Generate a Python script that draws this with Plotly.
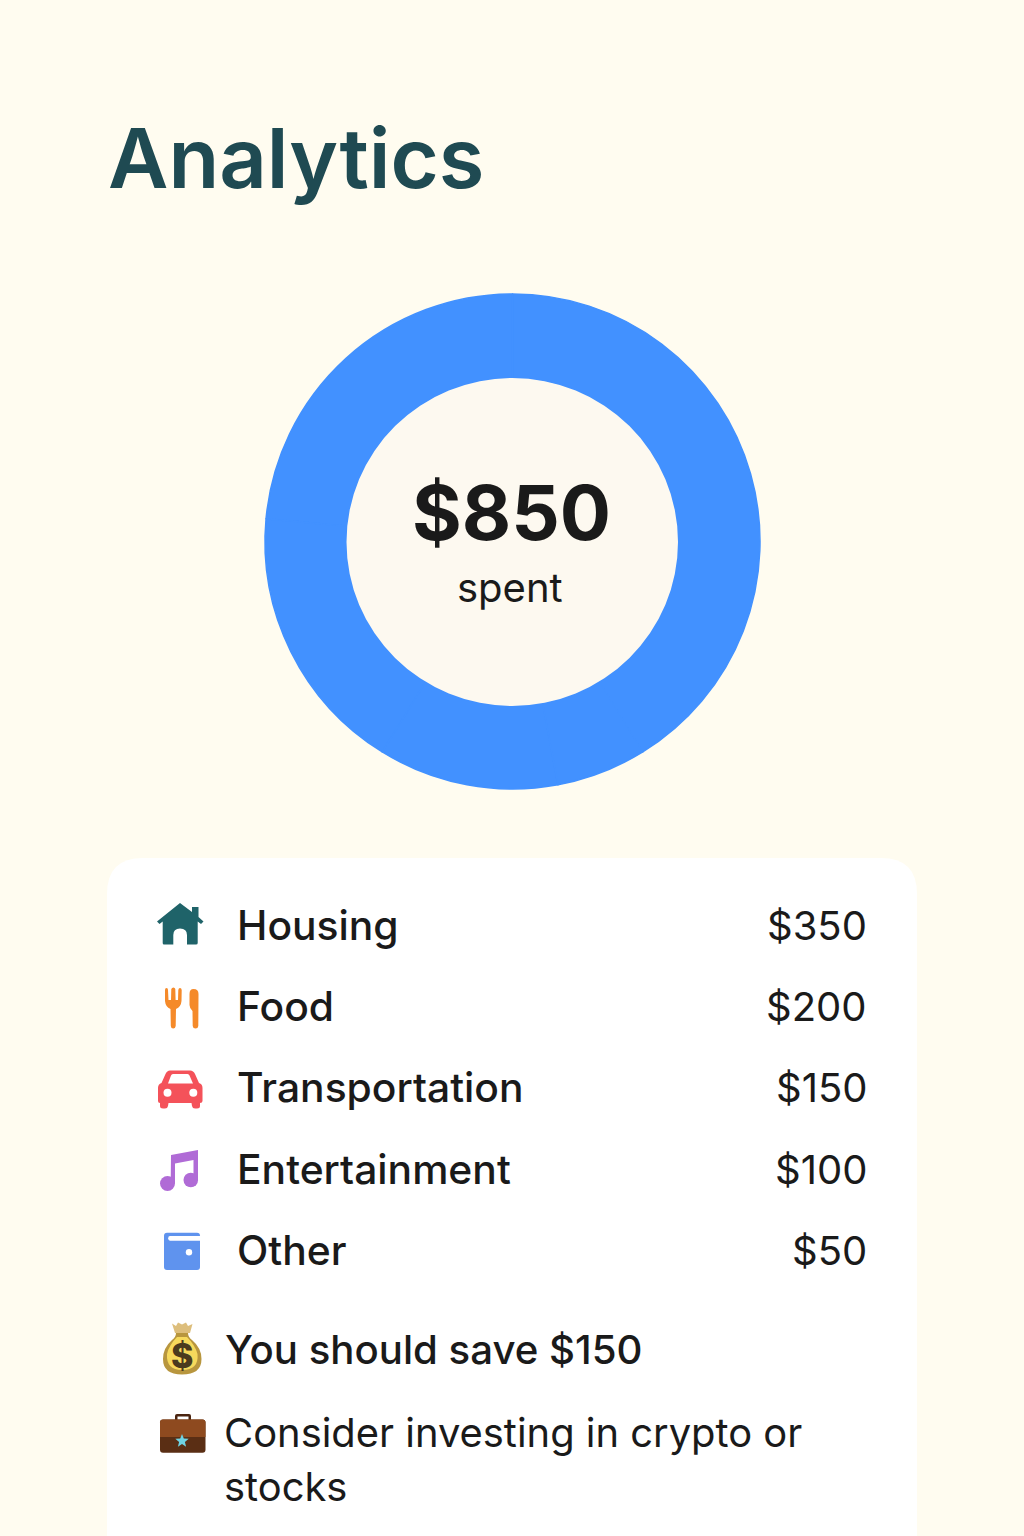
import math
import plotly.graph_objects as go

categories = ["Housing", "Food", "Transportation", "Entertainment", "Other"]
amounts = [350, 200, 150, 100, 50]
amount_labels = ["$350", "$200", "$150", "$100", "$50"]
title_text = "Analytics"
total_text = "$850"
total_caption = "spent"
row_y = [925, 1006, 1087, 1169, 1250]

BG = "#FFFCF0"
BLUE = "#4291FF"
FONT = "Inter"
INK = "#1A1A1A"

fig = go.Figure()
fig.add_trace(go.Pie(
    labels=categories, values=amounts, hole=0.66, sort=False,
    marker=dict(colors=[BLUE] * 5, line=dict(color=BLUE, width=1.5)),
    textinfo="none", showlegend=False, hoverinfo="label+value",
    domain=dict(x=[(512.5 - 247.5) / 1024, (512.5 + 247.5) / 1024],
                y=[1 - (541.5 + 247.5) / 1536, 1 - (541.5 - 247.5) / 1536]),
))

shapes = []
annotations = []


def path(d, fill, line=None, lw=0):
    shapes.append(dict(type="path", xref="x", yref="y", path=d, fillcolor=fill, layer="above",
                       line=dict(color=line or fill, width=lw)))


def circle(cx, cy, r, fill):
    shapes.append(dict(type="circle", xref="x", yref="y", x0=cx - r, x1=cx + r, y0=cy - r, y1=cy + r,
                       fillcolor=fill, line=dict(width=0), layer="above"))


def rrect(x0, y0, x1, y1, r):
    return (f"M{x0+r},{y0} L{x1-r},{y0} Q{x1},{y0} {x1},{y0+r} L{x1},{y1-r} Q{x1},{y1} {x1-r},{y1} "
            f"L{x0+r},{y1} Q{x0},{y1} {x0},{y1-r} L{x0},{y0+r} Q{x0},{y0} {x0+r},{y0} Z")


def text(x, y, s, size, color=INK, weight=400, anchor="left"):
    annotations.append(dict(xref="x", yref="y", x=x, y=y, text=s, showarrow=False, xanchor=anchor, yanchor="middle",
                            font=dict(family=FONT, size=size, color=color, weight=weight), borderpad=0))


# card and donut centre
shapes.append(dict(type="path", xref="x", yref="y", layer="below", fillcolor="#FFFFFF", line=dict(width=0),
                   path=rrect(107, 858, 917, 1600, 36)))
shapes.append(dict(type="circle", xref="x", yref="y", layer="above", x0=346.5, x1=678, y0=378, y1=706,
                   fillcolor="#FDF9F0", line=dict(width=0)))

text(107, 158, title_text, 83, "#1F4A52", 600)
text(511, 512, total_text, 76, INK, 700, "center")
text(510, 587, total_caption, 40, INK, 400, "center")

for name, lab, y in zip(categories, amount_labels, row_y):
    text(236, y, name, 40.8, INK, 500)
    text(868, y, lab, 40, INK, 400, "right")

text(224, 1349, "You should save $150", 40.2, INK, 500)
text(223, 1432, "Consider investing in crypto or", 39.9, INK, 400)
text(223, 1486, "stocks", 39.9, INK, 400)

# house
H = "#1F6369"
path("M180,903 L192,912 L192,907 L198.5,907 L198.5,917 L203.5,921.5 L201,924 L197.7,921.5 L197.7,943 Q197.7,944.5 196,944.5 "
     "L187,944.5 L187,935 Q187,928.5 180,928.5 Q173.3,928.5 173.3,935 L173.3,944.5 L164,944.5 Q162.7,944.5 162.7,943 "
     "L162.7,921.5 L159.5,924 L157,921.5 Z", H)
# fork and knife
O = "#F58A2A"
path("M165,990 Q165,988 166.5,988 Q168,988 168,990 L168.5,1000 L171,1000 L171.3,989 Q172,987.5 173.3,987.5 Q175,987.5 175.3,989 "
     "L175.6,1000 L178,1000 L178.3,990 Q178.6,988 180,988 Q181.5,988 181.7,990 L181.5,1001 Q181,1007 176,1009 L175.7,1026 "
     "Q175.3,1028.5 173.2,1028.5 Q171,1028.5 170.8,1026 L170.5,1009 Q165.5,1007 165,1001 Z", O)
path("M193.5,989 Q198.5,989 198.5,994 L198.3,1026 Q198,1028.5 195.5,1028.5 Q193,1028.5 192.7,1026 L192.5,1011 Q189.5,1008 189.5,1005 "
     "L189.5,994 Q189.5,989 193.5,989 Z", O)
# car
R = "#F4525A"
path("M170,1070.5 L190,1070.5 Q193.5,1070.5 195,1074 L199,1083 Q202.5,1084 202.5,1088 L202.5,1101 Q202.5,1103 200,1103 L200,1106 "
     "Q200,1108.5 197,1108.5 L195,1108.5 Q192.5,1108.5 192,1106 L191.5,1103 L168.5,1103 L168,1106 Q167.5,1108.5 165,1108.5 L163,1108.5 "
     "Q160,1108.5 160,1106 L160,1103 Q158,1103 158,1101 L158,1088 Q158,1084 161.5,1083 L165.5,1074 Q167,1070.5 170,1070.5 Z", R)
path("M168,1083.5 L171,1075.5 Q171.5,1074 173,1074 L187.5,1074 Q189,1074 189.5,1075.5 L193,1083.5 Z", "#FFFFFF")
circle(167.5, 1092.7, 4, "#FFFFFF")
circle(193.3, 1092.7, 4, "#FFFFFF")
# music note
P = "#B06BD6"
path("M171,1155 L198,1150 L198,1180 L193.5,1180 L193.5,1160 L175,1163.5 L175,1183 L170.7,1183 Z", P)
circle(167.5, 1183.5, 7.5, P)
circle(190.8, 1180, 7.3, P)
# wallet
W = "#5F93EE"
path(rrect(164, 1232.7, 200, 1270, 3), W)
path("M170,1236 L200,1236 L200,1240.7 L170,1240.7 Q168.2,1240.7 168.2,1238.3 Q168.2,1236 170,1236 Z", "#FFFFFF")
circle(189, 1252.3, 3.2, "#FFFFFF")
# money bag
path("M172,1323.5 L176,1326 L178,1322.5 L182,1324.5 L186,1322.5 L188,1326 L192.5,1324 L190,1333 L175,1333 Z", "#DDBE7C")
path("M176,1333 L188,1333 Q188,1337 192,1340 Q201.5,1348 201.5,1359 Q201.5,1374.5 182,1374.5 Q163,1374.5 163,1359 Q163,1348 172,1340 Q176,1337 176,1333 Z",
     "#B8963E")
path("M177,1337 L187,1337 Q195,1345 197.5,1354 Q199,1370 182,1370 Q166,1370 167,1354 Q169,1345 177,1337 Z", "#F6D95C")
text(181.5, 1355, "$", 34, "#4A3A1E", 800, "center")
# briefcase
path("M175,1420 L175,1416 Q175,1414 177,1414 L189,1414 Q191,1414 191,1416 L191,1420 L188.5,1420 L188.5,1416.5 L177.5,1416.5 L177.5,1420 Z", "#4A2410")
path(rrect(160, 1419.5, 205.5, 1452.7, 3), "#5A2E14")
path("M163,1419.5 L202.5,1419.5 Q205.5,1419.5 205.5,1422.5 L205.5,1437 L160,1437 L160,1422.5 Q160,1419.5 163,1419.5 Z", "#8E4A1F")
star = []
for i in range(10):
    r = 7 if i % 2 == 0 else 3
    a = -math.pi / 2 + i * math.pi / 5
    star.append(f"{182 + r * math.cos(a):.1f},{1441 + r * math.sin(a):.1f}")
path("M" + " L".join(star) + " Z", "#6FD3E3")

fig.update_layout(
    width=1024, height=1536, autosize=False,
    margin=dict(l=0, r=0, t=0, b=0),
    paper_bgcolor=BG, plot_bgcolor="rgba(0,0,0,0)",
    xaxis=dict(range=[0, 1024], visible=False, fixedrange=True),
    yaxis=dict(range=[1536, 0], visible=False, fixedrange=True),
    shapes=shapes, annotations=annotations, showlegend=False,
)
fig.write_html("out.html", config=dict(displayModeBar=False),
               post_script="document.body.style.margin='0';document.body.style.overflow='hidden';window.dispatchEvent(new Event('resize'));")
